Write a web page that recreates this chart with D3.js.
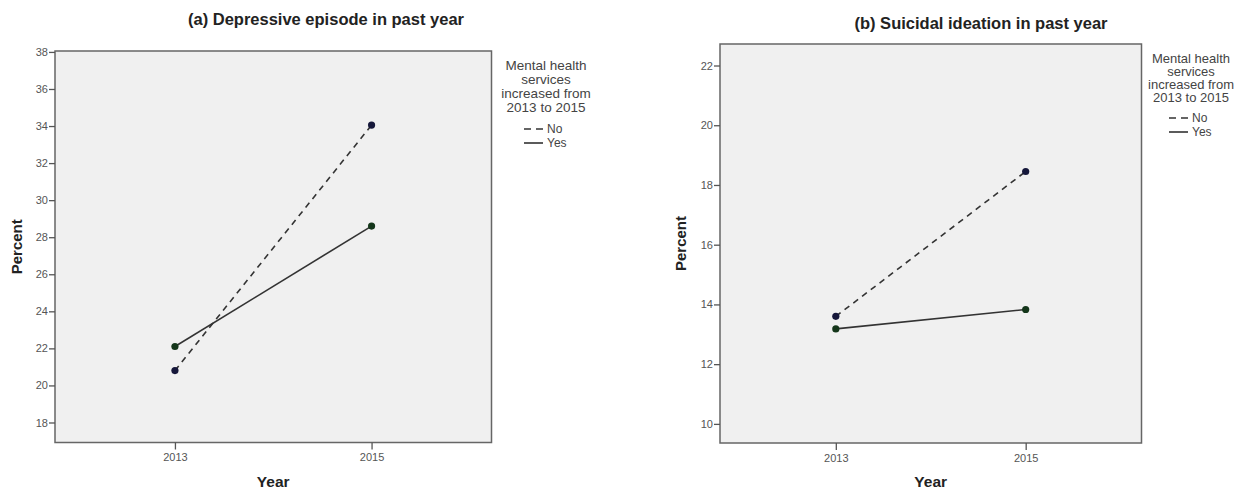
<!DOCTYPE html>
<html>
<head>
<meta charset="utf-8">
<script src="https://cdn.jsdelivr.net/npm/d3@7"></script>
<style>
  body { margin: 0; background: #fff; }
  svg { display: block; font-family: "Liberation Sans", Arial, sans-serif; }
</style>
</head>
<body>
<div class="chart-container"></div>
<script>
const totalWidth = 1251;
const totalHeight = 496;

// data
const years = ["2013", "2015"];
const seriesNames = ["No", "Yes"];
const depressiveNo = [20.8, 34.05];
const depressiveYes = [22.1, 28.6];
const suicidalNo = [13.6, 18.45];
const suicidalYes = [13.18, 13.83];
const depressiveTicks = [18, 20, 22, 24, 26, 28, 30, 32, 34, 36, 38];
const suicidalTicks = [10, 12, 14, 16, 18, 20, 22];
const legendTitle = ["Mental health", "services", "increased from", "2013 to 2015"];

const svg = d3.select(".chart-container")
    .append("svg")
    .attr("width", totalWidth)
    .attr("height", totalHeight);

const dotColor = {No: "#15173a", Yes: "#14361a"};

function drawPanel(p) {
    const w = p.right - p.left;
    const h = p.bottom - p.top;
    const chart = svg.append("g").attr("transform", `translate(${p.left},${p.top})`);

    const x = d3.scalePoint().domain(years).range([0, w]).padding(0.61);
    const y = d3.scaleLinear().domain(p.domain).range([h, 0]);

    chart.append("rect")
        .attr("width", w).attr("height", h)
        .attr("fill", "#f0f0f0")
        .attr("stroke", "#666").attr("stroke-width", 1.5);

    const yAxis = chart.append("g")
        .attr("class", "vertical-axis")
        .call(d3.axisLeft(y).tickValues(p.ticks).tickSize(6).tickSizeOuter(0).tickPadding(1));
    const xAxis = chart.append("g")
        .attr("class", "horizontal-axis")
        .attr("transform", `translate(0,${h})`)
        .call(d3.axisBottom(x).tickSize(7).tickSizeOuter(0).tickPadding(4));
    [yAxis, xAxis].forEach(a => {
        a.select(".domain").remove();
        a.selectAll(".tick line").attr("stroke", "#555").attr("stroke-width", 1.3);
        a.selectAll(".tick text").attr("fill", "#555").style("font-size", "11px")
            .style("font-family", "'Liberation Sans', Arial, sans-serif");
    });

    const series = [
        {name: "No", values: p.no, dash: "6,5"},
        {name: "Yes", values: p.yes, dash: null}
    ];
    const line = d3.line().x((d, i) => x(years[i])).y(d => y(d));

    series.forEach(s => {
        chart.append("path")
            .datum(s.values)
            .attr("d", line)
            .attr("fill", "none")
            .attr("stroke", "#333")
            .attr("stroke-width", 1.6)
            .attr("stroke-dasharray", s.dash);
        chart.selectAll(null)
            .data(s.values)
            .enter()
            .append("circle")
            .attr("cx", (d, i) => x(years[i]))
            .attr("cy", d => y(d))
            .attr("r", 3.6)
            .attr("fill", dotColor[s.name]);
    });

    // titles
    svg.append("text")
        .attr("x", p.titleX).attr("y", p.titleY)
        .attr("text-anchor", "middle")
        .style("font-size", "16.5px").style("font-weight", "bold").attr("fill", "#222")
        .text(p.title);
    svg.append("text")
        .attr("x", p.left + w / 2).attr("y", 487)
        .attr("text-anchor", "middle")
        .style("font-size", "15.5px").style("font-weight", "bold").attr("fill", "#222")
        .text("Year");
    svg.append("text")
        .attr("transform", `translate(${p.yLabelX},${p.top + h / 2}) rotate(-90)`)
        .attr("text-anchor", "middle")
        .style("font-size", "15px").style("font-weight", "bold").attr("fill", "#222")
        .text("Percent");

    // legend
    const lg = svg.append("g").attr("transform", `translate(${p.legendX},${p.legendY})`);
    legendTitle.forEach((t, i) => {
        lg.append("text")
            .attr("x", 0).attr("y", i * p.legendStep)
            .attr("text-anchor", "middle")
            .style("font-size", p.legendFont + "px").attr("fill", "#444")
            .text(t);
    });
    seriesNames.forEach((n, i) => {
        const yy = legendTitle.length * p.legendStep + 7 + i * 14;
        lg.append("line")
            .attr("x1", -22).attr("x2", -3)
            .attr("y1", yy - 4).attr("y2", yy - 4)
            .attr("stroke", "#333").attr("stroke-width", 1.6)
            .attr("stroke-dasharray", n === "No" ? "7,5" : null);
        lg.append("text")
            .attr("x", 1).attr("y", yy)
            .style("font-size", "12px").attr("fill", "#444")
            .text(n);
    });
}

drawPanel({
    left: 55, right: 491.5, top: 51, bottom: 442.5,
    domain: [16.92, 38.05], ticks: depressiveTicks,
    no: depressiveNo, yes: depressiveYes,
    title: "(a) Depressive episode in past year", titleX: 326, titleY: 25,
    yLabelX: 22,
    legendX: 546, legendY: 70, legendStep: 14, legendFont: 13.5
});

drawPanel({
    left: 720, right: 1141.5, top: 44, bottom: 443,
    domain: [9.36, 22.72], ticks: suicidalTicks,
    no: suicidalNo, yes: suicidalYes,
    title: "(b) Suicidal ideation in past year", titleX: 981, titleY: 29,
    yLabelX: 686,
    legendX: 1191, legendY: 63, legendStep: 13, legendFont: 13
});
</script>
</body>
</html>
